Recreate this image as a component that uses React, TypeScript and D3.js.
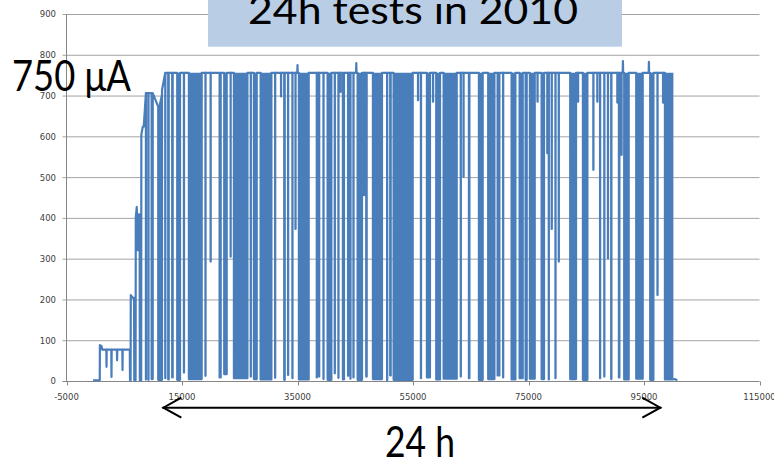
import React, { useEffect, useRef } from 'react'
import * as d3 from 'd3'

// axis ticks
const xTicks = [-5000, 15000, 35000, 55000, 75000, 95000, 115000]
const yTicks = [0, 100, 200, 300, 400, 500, 600, 700, 800, 900]

// start-up: low current, then steps towards full beam  [time s, current uA]
const rampPoints: [number, number][] = [
    [-400, 3], [760, 3], [780, 89], [1050, 87], [1200, 78],
    [1900, 78], [1930, 36], [1960, 78],
    [2760, 78], [2790, 11], [2820, 78],
    [3730, 78], [3760, 52], [3790, 78],
    [4670, 78], [4700, 28], [4730, 78],
    [5960, 78], [6000, 3], [6100, 3], [6130, 212], [6480, 205], [6700, 205], [6740, 3],
    [6960, 3], [7000, 404], [7170, 428], [7340, 322], [7500, 410], [7660, 410], [7700, 3],
    [7930, 3], [7960, 605], [8210, 625], [8380, 625],
]

// plateau current between trips  [from time s, current uA]
const topSteps: [number, number][] = [
    [8400, 707], [10300, 650], [10600, 674], [11400, 715], [11900, 757],
]

// beam trips / dense trip bursts, outer edges as seen  [start s, end s, lowest current uA]
const drops: [number, number, number][] = [
    [8560, 8960, 5], [9080, 9300, 4], [9550, 10120, 6], [10690, 11730, 4],
    [11970, 12250, 8], [12420, 12890, 5], [13110, 13580, 10], [13980, 14850, 4],
    [15140, 15540, 22], [16000, 18600, 6], [18900, 19240, 14], [19760, 20160, 294],
    [21320, 21890, 10], [22120, 22930, 18], [23230, 23620, 306], [23800, 26520, 8],
    [26740, 27090, 12], [27260, 28130, 6], [28420, 30670, 5], [31020, 31240, 9],
    [32110, 32200, 699], [32510, 32980, 4], [33200, 33550, 16], [34010, 34240, 8],
    [34480, 34830, 374], [35050, 37130, 5], [38170, 38520, 10], [38640, 38860, 12],
    [39330, 39680, 6], [40020, 41060, 4], [41410, 41510, 20], [41980, 42200, 9],
    [42410, 42500, 710], [42670, 43240, 5], [43590, 43940, 14], [44060, 44280, 7],
    [44520, 44870, 10], [45220, 46360, 4], [46480, 46570, 457], [46710, 47170, 12],
    [47870, 49820, 6], [50410, 50640, 3], [50860, 51330, 15], [51450, 55140, 4],
    [55830, 55920, 690], [56180, 56580, 8], [57220, 58130, 10], [58430, 58520, 686],
    [58830, 59870, 5], [60110, 62760, 7], [63100, 63450, 12], [63710, 63800, 502],
    [64490, 64960, 8], [66220, 67260, 4], [67830, 69290, 6], [69460, 70150, 15],
    [70500, 70720, 10], [71880, 72920, 5], [73270, 74190, 8], [74310, 74880, 4],
    [75050, 76270, 7], [76520, 76610, 686], [77080, 77880, 6], [78220, 78300, 560],
    [78340, 78690, 5], [78980, 79070, 374], [79500, 79850, 8], [80070, 80420, 294],
    [82030, 83420, 6], [83540, 83630, 686], [84230, 85390, 4], [86190, 86280, 519],
    [86880, 86970, 686], [87230, 87570, 8], [87990, 88270, 12], [88560, 88960, 302],
    [89130, 89550, 6], [90340, 90430, 684], [90460, 90930, 10], [91070, 91160, 556],
    [91380, 92540, 5], [93460, 94970, 7], [95880, 96820, 4], [97170, 97510, 212],
    [98260, 98350, 684], [98430, 100280, 5],
]

// short overshoots above the plateau  [time s, current uA]
const spikes: [number, number][] = [
    [35000, 776], [45180, 781], [91350, 786], [95850, 784],
]

// beam off at the end
const tailPoints: [number, number][] = [[100280, 6], [100770, 3]]

const arrowStart = 11600
const arrowSpan = 86400

const topAt = (t: number) => {
    let level = topSteps[0][1]
    for (const [from, v] of topSteps) if (t >= from) level = v
    return level
}

const App: React.FC = () => {
    const chartRef = useRef<SVGSVGElement | null>(null)

    useEffect(() => {
        if (!chartRef.current) return
        const width = 774
        const height = 460
        const svg = d3.select(chartRef.current)
        svg.selectAll('*').remove()
        svg.attr('width', width).attr('height', height)

        const x = d3.scaleLinear().domain([-5000, 115000]).range([66.5, 759.5])
        const y = d3.scaleLinear().domain([0, 900]).range([381.5, 14.5])
        const tickFont = 'DejaVu Sans, Verdana, sans-serif'
        const bigFont = 'Lato, "Open Sans", sans-serif'
        const blue = '#4a7ebb'
        const strokeW = 2.2

        // gridlines
        svg.append('g')
            .selectAll('line')
            .data(yTicks.slice(1))
            .join('line')
            .attr('x1', x(-5000) - 4)
            .attr('x2', x(115000))
            .attr('y1', d => y(d))
            .attr('y2', d => y(d))
            .attr('stroke', '#a3a3a3')

        // axes
        svg.append('line')
            .attr('x1', x(-5000)).attr('x2', x(-5000))
            .attr('y1', y(900)).attr('y2', y(0))
            .attr('stroke', '#868686')
        svg.append('line')
            .attr('x1', x(-5000) - 4).attr('x2', x(115000))
            .attr('y1', y(0)).attr('y2', y(0))
            .attr('stroke', '#868686')
        svg.append('g')
            .selectAll('line')
            .data(xTicks)
            .join('line')
            .attr('x1', d => Math.round(x(d)) + 0.5)
            .attr('x2', d => Math.round(x(d)) + 0.5)
            .attr('y1', y(0))
            .attr('y2', y(0) + 4)
            .attr('stroke', '#868686')

        svg.append('g')
            .selectAll('text')
            .data(yTicks)
            .join('text')
            .attr('x', 56)
            .attr('y', d => y(d))
            .attr('dy', '0.35em')
            .attr('text-anchor', 'end')
            .attr('font-family', tickFont)
            .attr('font-size', '8.5px')
            .attr('fill', '#404040')
            .text(d => d)

        svg.append('g')
            .selectAll('text')
            .data(xTicks)
            .join('text')
            .attr('x', d => x(d))
            .attr('y', 399.5)
            .attr('text-anchor', 'middle')
            .attr('font-family', tickFont)
            .attr('font-size', '8.5px')
            .attr('fill', '#404040')
            .text(d => d)

        // the trip edges were read off the outside of the drawn stroke,
        // so pull them in by half a stroke width
        const inset = x.invert(x(0) + strokeW / 2) - x.invert(x(0))
        const trips = drops.map(([a, b, m]): [number, number, number] => {
            if (b - a > 2 * inset) return [a + inset, b - inset, m]
            const c = (a + b) / 2
            return [c - 10, c + 10, m]
        })

        // series: plateau with trips down to the lowest current
        type Ev = { t: number; drop?: [number, number, number]; spike?: [number, number] }
        const events: Ev[] = [
            ...trips.map(d => ({ t: d[0], drop: d })),
            ...spikes.map(s => ({ t: s[0], spike: s })),
        ].sort((a, b) => a.t - b.t)

        const pts: [number, number][] = [...rampPoints]
        events.forEach((e, i) => {
            if (e.spike) {
                const [t, v] = e.spike
                pts.push([t - 40, topAt(t)], [t, v], [t + 40, topAt(t)])
            } else if (e.drop) {
                const [a, b, m] = e.drop
                pts.push([a, topAt(a)], [a, m], [b, m])
                if (i < events.length - 1) pts.push([b, topAt(b)])
            }
        })
        pts.push(...tailPoints)

        // dense trip bursts show as solid blocks
        const area = d3.area<[number, number]>()
            .x(d => x(d[0]))
            .y0(d => y(d[1]))
            .y1(d => y(topAt(d[0])))
        svg.append('g')
            .selectAll('path')
            .data(trips.filter(d => d[1] - d[0] > 100))
            .join('path')
            .attr('d', d => area([[d[0], d[2]], [d[1], d[2]]]))
            .attr('fill', blue)

        const line = d3.line<[number, number]>()
            .x(d => x(d[0]))
            .y(d => y(d[1]))
        svg.append('path')
            .datum(pts)
            .attr('d', line)
            .attr('fill', 'none')
            .attr('stroke', blue)
            .attr('stroke-width', strokeW)
            .attr('stroke-linejoin', 'round')

        // title box
        svg.append('rect')
            .attr('x', 208).attr('y', -10)
            .attr('width', 414).attr('height', 56.7)
            .attr('fill', '#b9cde5')
        svg.append('text')
            .attr('x', 248).attr('y', 24)
            .attr('textLength', 330)
            .attr('lengthAdjust', 'spacingAndGlyphs')
            .attr('font-family', bigFont)
            .attr('font-size', '38px')
            .attr('fill', '#000')
            .text('24h tests in 2010')

        svg.append('text')
            .attr('x', 12).attr('y', 90.5)
            .attr('textLength', 119)
            .attr('lengthAdjust', 'spacingAndGlyphs')
            .attr('font-family', bigFont)
            .attr('font-size', '42px')
            .attr('fill', '#000')
            .text('750 μA')

        // 24 h span arrow
        const ax0 = x(arrowStart)
        const ax1 = x(arrowStart + arrowSpan)
        const ay = 407.7
        svg.append('line')
            .attr('x1', ax0).attr('x2', ax1)
            .attr('y1', ay).attr('y2', ay)
            .attr('stroke', '#000').attr('stroke-width', 2)
        svg.append('path')
            .attr('d', `M${ax0 + 19},${ay - 10}L${ax0 + 1},${ay}L${ax0 + 19},${ay + 10}`)
            .attr('fill', 'none').attr('stroke', '#000').attr('stroke-width', 2)
        svg.append('path')
            .attr('d', `M${ax1 - 19},${ay - 10}L${ax1 - 1},${ay}L${ax1 - 19},${ay + 10}`)
            .attr('fill', 'none').attr('stroke', '#000').attr('stroke-width', 2)

        svg.append('text')
            .attr('x', 385).attr('y', 456.5)
            .attr('textLength', 70)
            .attr('lengthAdjust', 'spacingAndGlyphs')
            .attr('font-family', bigFont)
            .attr('font-size', '42px')
            .attr('fill', '#000')
            .text('24 h')
    }, [])

    return (
        <svg
            ref={chartRef}
            style={{ position: 'absolute', left: 0, top: 0, background: '#fff', display: 'block' }}
        />
    )
}

export default App
